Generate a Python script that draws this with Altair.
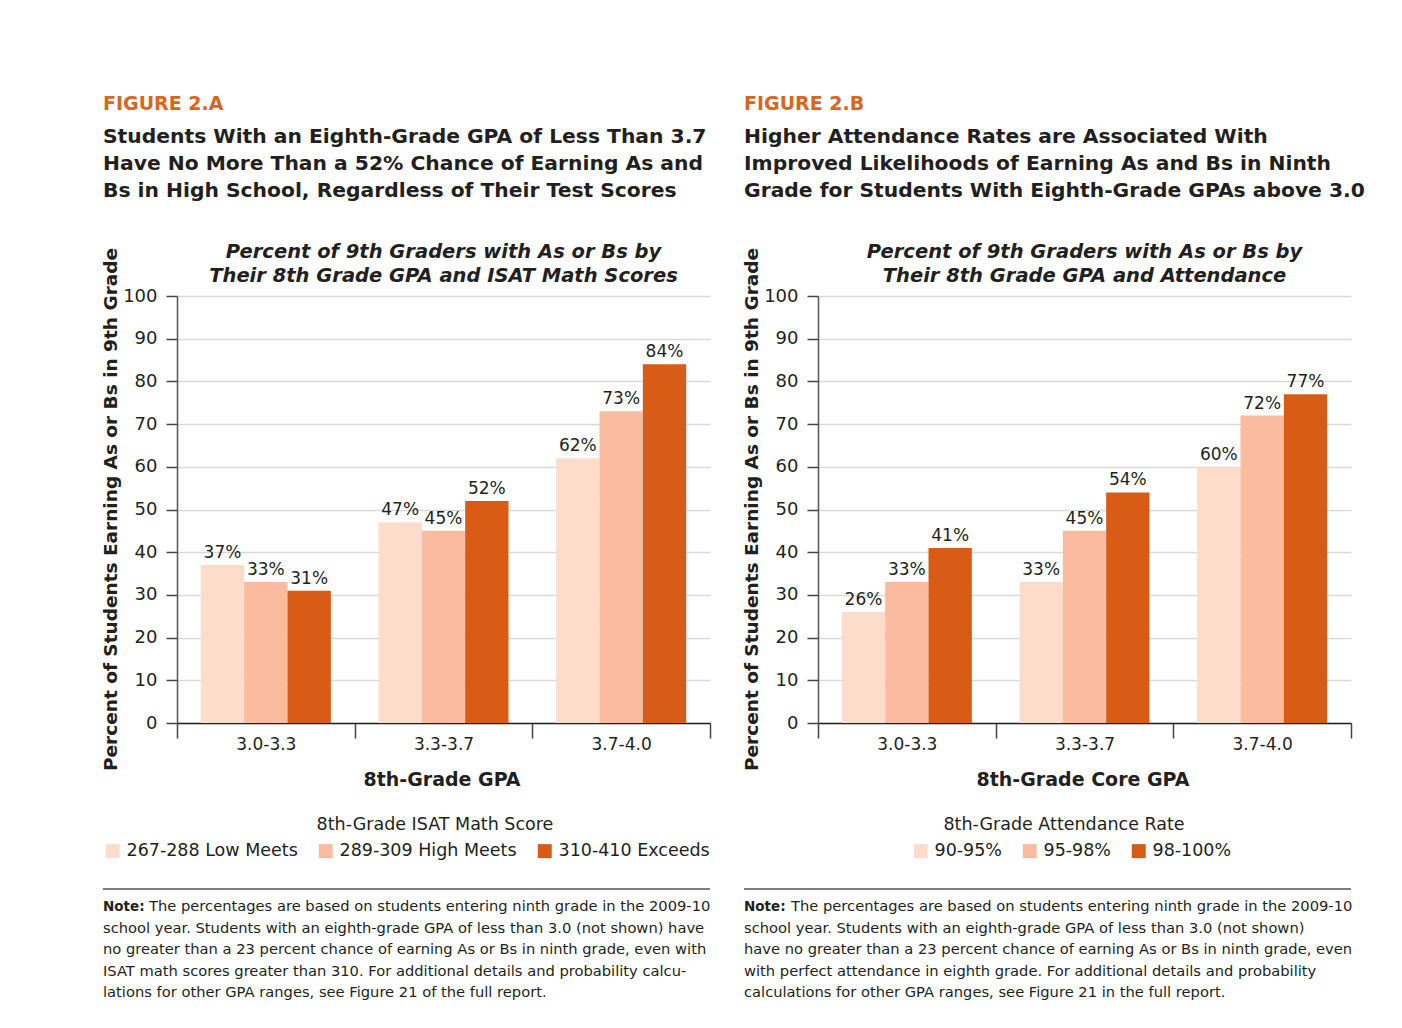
import altair as alt
import pandas as pd

# ---------------- data ----------------
gpa_bins = ["3.0-3.3", "3.3-3.7", "3.7-4.0"]

isat_groups = ["267-288 Low Meets", "289-309 High Meets", "310-410 Exceeds"]
isat_low = [37, 47, 62]
isat_high = [33, 45, 73]
isat_exceeds = [31, 52, 84]

att_groups = ["90-95%", "95-98%", "98-100%"]
att_90_95 = [26, 33, 60]
att_95_98 = [33, 45, 72]
att_98_100 = [41, 54, 77]

palette = ["#FDDCCB", "#FABB9F", "#D85C16"]

TXT = "#231F20"
ORANGE = "#D9661F"
BOLD = "DejaVu Sans"
REG = "DejaVu Sans"

# style: share of a GPA band covered by its three bars
GROUP_FRAC = 0.7316
BAR_W = GROUP_FRAC / 3
BAR_PAD = (1 - GROUP_FRAC) / 2


def make_df(groups, series):
    rows = []
    for k, (g, vals) in enumerate(zip(groups, series)):
        for gi, (b, v) in enumerate(zip(gpa_bins, vals)):
            rows.append({"gpa": b, "gi": gi, "group": g, "k": k, "value": v,
                         "label": f"{v}%"})
    return pd.DataFrame(rows)


df_a = make_df(isat_groups, [isat_low, isat_high, isat_exceeds])
df_b = make_df(att_groups, [att_90_95, att_95_98, att_98_100])

one = pd.DataFrame({"k": [0]})


def txt(text, x, y, size, font=REG, weight="normal", style="normal", color=TXT,
        align="left", baseline="alphabetic", angle=0, line_height=None):
    kw = dict(text=text, fontSize=size, font=font, fontWeight=weight, fontStyle=style,
              color=color, align=align, baseline=baseline, angle=angle)
    if line_height is not None:
        kw["lineHeight"] = line_height
    return alt.Chart(one).mark_text(**kw).encode(x=alt.value(x), y=alt.value(y))


def panel(df, groups, fig_label, headline, chart_title, x_title, legend_title,
          legend_x, legend_title_x, note_first, note_first_x, note_rest, anchor):
    x_band = alt.X("gpa:N", sort=gpa_bins,
                   scale=alt.Scale(type="band", paddingInner=0, paddingOuter=0),
                   axis=alt.Axis(title=None, labelAngle=0, tickBand="extent", tickSize=15,
                                 labelPadding=-2, labelFontSize=17, labelFont=REG,
                                 labelColor=TXT, domainColor="#222", domainWidth=1.5,
                                 tickColor="#444", tickWidth=1.5, grid=False))
    y = alt.Y("value:Q", stack=None, scale=alt.Scale(domain=[0, 100], nice=False),
              axis=alt.Axis(title=None, values=list(range(0, 101, 10)), tickSize=11,
                            labelPadding=9, labelFontSize=18, labelFont=REG,
                            labelColor=TXT, domainColor="#555", domainWidth=1.5,
                            tickColor="#444", tickWidth=1.5, gridColor="#D9D9D9",
                            gridWidth=1.5))
    qscale = alt.Scale(domain=[0, len(gpa_bins)], nice=False, zero=False, padding=0)
    color = alt.Color("group:N", sort=groups,
                      scale=alt.Scale(domain=groups, range=palette),
                      legend=alt.Legend(title=None, orient="none", legendX=legend_x,
                                        legendY=546, direction="horizontal",
                                        symbolType="square", symbolSize=196,
                                        symbolStrokeWidth=0, labelFontSize=17.5,
                                        labelFont=REG, labelColor=TXT, labelOffset=5,
                                        labelLimit=400, columnPadding=19, padding=0))
    base = alt.Chart(df).transform_calculate(
        x0=f"datum.gi + {BAR_PAD} + datum.k * {BAR_W}",
        x1=f"datum.gi + {BAR_PAD} + (datum.k + 1) * {BAR_W}",
        xm=f"datum.gi + {BAR_PAD} + (datum.k + 0.5) * {BAR_W}",
    )
    axes = alt.Chart(df).mark_tick(opacity=0).encode(x=x_band, y=y)
    bars = base.mark_bar(orient="vertical").encode(
        x=alt.X("x0:Q", scale=qscale, axis=None), x2="x1:Q",
        y=y, y2=alt.datum(0), color=color)
    labels = base.mark_text(baseline="alphabetic", dy=-7, fontSize=17, font=REG,
                            color=TXT).encode(
        x=alt.X("xm:Q", scale=qscale, axis=None), y=y, text="label:N")

    layers = [axes, bars, labels,
              txt(fig_label, -74, -186, 19, font=BOLD, weight="bold", color=ORANGE),
              txt(headline, -74, -153, 20.3, font=BOLD, weight="bold", line_height=27),
              txt(chart_title, 266.5, -38, 19.5, font=BOLD, weight="bold", style="italic",
                  align="center", line_height=24),
              txt("Percent of Students Earning As or Bs in 9th Grade", -66, 213.5, 18.5,
                  font=BOLD, weight="bold", align="center", baseline="middle", angle=270),
              txt(x_title, 265, 490, 19, font=BOLD, weight="bold", align="center"),
              txt(legend_title, legend_title_x, 534, 17.5, align="center"),
              alt.Chart(one).mark_rule(color="#555", strokeWidth=1.5).encode(
                  x=alt.value(-74), x2=alt.value(533), y=alt.value(593), y2=alt.value(593)),
              txt("Note:", -74, 615, 13.5, font=REG, weight="bold"),
              txt(note_first, note_first_x, 615, 14.7),
              txt(note_rest, -74, 636.5, 14.7, line_height=21.5)]
    if anchor:
        layers.append(alt.Chart(one).mark_rule(opacity=0, strokeWidth=0.01).encode(
            x=alt.value(-168), x2=alt.value(-160), y=alt.value(-287), y2=alt.value(-287)))
    return alt.layer(*layers).resolve_scale(x="independent").properties(
        width=533, height=427)


left = panel(
    df_a, isat_groups, "FIGURE 2.A",
    ["Students With an Eighth-Grade GPA of Less Than 3.7",
     "Have No More Than a 52% Chance of Earning As and",
     "Bs in High School, Regardless of Their Test Scores"],
    ["Percent of 9th Graders with As or Bs by",
     "Their 8th Grade GPA and ISAT Math Scores"],
    "8th-Grade GPA", "8th-Grade ISAT Math Score", -73, 258,
    "The percentages are based on students entering ninth grade in the 2009-10", -28,
    ["school year. Students with an eighth-grade GPA of less than 3.0 (not shown) have",
     "no greater than a 23 percent chance of earning As or Bs in ninth grade, even with",
     "ISAT math scores greater than 310. For additional details and probability calcu-",
     "lations for other GPA ranges, see Figure 21 of the full report."],
    True)

right = panel(
    df_b, att_groups, "FIGURE 2.B",
    ["Higher Attendance Rates are Associated With",
     "Improved Likelihoods of Earning As and Bs in Ninth",
     "Grade for Students With Eighth-Grade GPAs above 3.0"],
    ["Percent of 9th Graders with As or Bs by",
     "Their 8th Grade GPA and Attendance"],
    "8th-Grade Core GPA", "8th-Grade Attendance Rate", 94, 246,
    "The percentages are based on students entering ninth grade in the 2009-10", -27,
    ["school year.  Students with an eighth-grade GPA of less than 3.0 (not shown)",
     "have no greater than a 23 percent chance of earning As or Bs in ninth grade, even",
     "with perfect attendance in eighth grade. For additional details and probability",
     "calculations for other GPA ranges, see Figure 21 in the full report."],
    False)

chart = alt.hconcat(left, right, spacing=108, bounds="flush").resolve_scale(
    color="independent", x="independent", y="independent"
).resolve_legend(color="independent").properties(padding=0).configure_view(
    stroke="transparent")

chart.save("out.html", embed_options={"renderer": "svg", "actions": False})
